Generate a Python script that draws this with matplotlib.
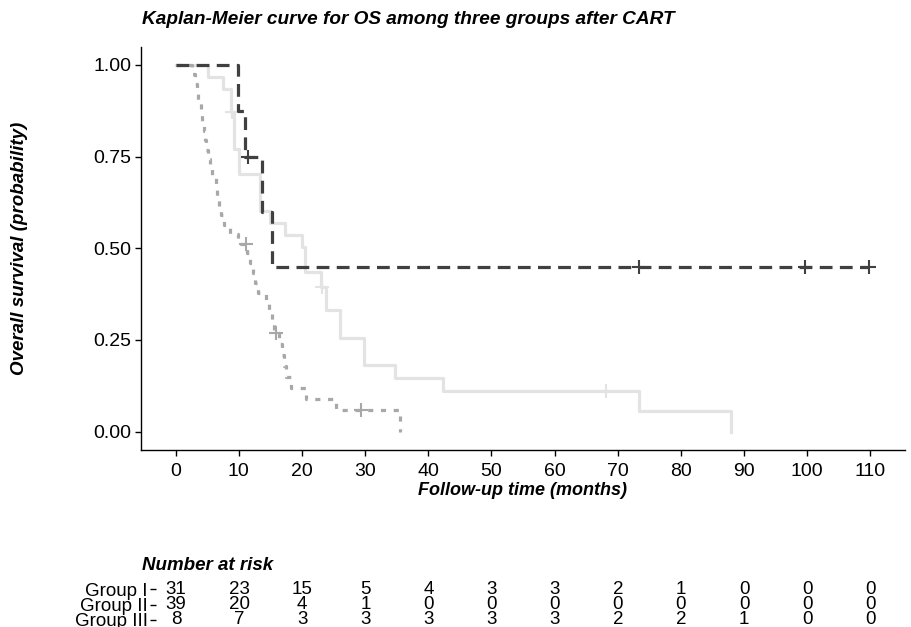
import matplotlib
matplotlib.use("Agg")
import matplotlib.pyplot as plt

plt.rcParams['font.family'] = ['Liberation Sans', 'DejaVu Sans']

# Group I (light solid)
g1_time = [0, 5.1, 7.5, 8.7, 9.3, 10.1, 13.3, 15.0, 17.3, 20.0, 20.5, 23.0, 23.8,
           26.0, 29.8, 34.7, 42.3, 73.3, 88.0]
g1_surv = [1.0, 0.968, 0.935, 0.871, 0.770, 0.703, 0.603, 0.570, 0.536, 0.503, 0.436,
           0.395, 0.332, 0.256, 0.183, 0.146, 0.110, 0.055, 0.0]
g1_cens_t = [8.9, 23.2, 68.2]
g1_cens_s = [0.871, 0.395, 0.110]

# Group II (medium dotted)
g2_time = [0, 2.6, 3.1, 3.3, 3.6, 4.0, 4.2, 4.4, 4.6, 4.8, 5.1, 5.4, 5.8, 6.3, 6.6, 6.9,
           7.1, 7.6, 8.6, 9.8, 11.3, 11.7, 12.2, 12.6, 13.0, 14.3, 14.7, 15.2, 15.6,
           16.3, 16.8, 17.2, 17.5, 18.2, 20.6, 25.4, 35.5]
g2_surv = [1.0, 0.974, 0.949, 0.923, 0.897, 0.872, 0.846, 0.821, 0.795, 0.769, 0.744,
           0.718, 0.692, 0.667, 0.641, 0.615, 0.590, 0.564, 0.538, 0.513, 0.486, 0.459,
           0.432, 0.405, 0.378, 0.351, 0.324, 0.297, 0.270, 0.240, 0.210, 0.180, 0.150,
           0.120, 0.090, 0.060, 0.0]
g2_cens_t = [11.1, 15.9, 29.4]
g2_cens_s = [0.513, 0.270, 0.060]

# Group III (dark dashed)
g3_time = [0, 9.8, 10.9, 13.6, 15.2, 109.8]
g3_surv = [1.0, 0.875, 0.75, 0.6, 0.45, 0.45]
g3_cens_t = [11.4, 73.3, 99.7, 109.8]
g3_cens_s = [0.75, 0.45, 0.45, 0.45]

groups = ["Group I", "Group II", "Group III"]
risk_times = [0, 10, 20, 30, 40, 50, 60, 70, 80, 90, 100, 110]
risk_g1 = [31, 23, 15, 5, 4, 3, 3, 2, 1, 0, 0, 0]
risk_g2 = [39, 20, 4, 1, 0, 0, 0, 0, 0, 0, 0, 0]
risk_g3 = [8, 7, 3, 3, 3, 3, 3, 2, 2, 1, 0, 0]

W, H = 912, 627
fig = plt.figure(figsize=(W / 100, H / 100), dpi=100)

ax = fig.add_axes([141 / W, 1 - 450 / H, (905 - 141) / W, (450 - 46.6) / H])

c1, c2, c3 = '#e3e3e3', '#a8a8a8', '#404040'
lw = 2.3

ax.step(g1_time, g1_surv, where='post', color=c1, lw=lw)
ax.plot(g1_cens_t, g1_cens_s, '+', color=c1, ms=10, mew=1.5)
ax.step(g2_time, g2_surv, where='post', color=c2, lw=lw, dashes=(1.6, 2.4))
ax.plot(g2_cens_t, g2_cens_s, '+', color=c2, ms=10, mew=1.5)
ax.step(g3_time, g3_surv, where='post', color=c3, lw=lw, dashes=(4, 2.3))
ax.plot(g3_cens_t, g3_cens_s, '+', color=c3, ms=10, mew=1.5)

ax.set_xlim(-5.5, 115.5)
ax.set_ylim(-0.05, 1.05)
ax.set_xticks(risk_times)
ax.set_yticks([0, 0.25, 0.5, 0.75, 1.0])
ax.set_yticklabels(["0.00", "0.25", "0.50", "0.75", "1.00"])
ax.tick_params(labelsize=14, length=4, width=1, color='black', labelcolor='black')
ax.tick_params(axis='x', pad=5)
ax.tick_params(axis='y', pad=3)
for s in ['top', 'right']:
    ax.spines[s].set_visible(False)
for s in ['left', 'bottom']:
    ax.spines[s].set_linewidth(1)

ax.set_xlabel("Follow-up time (months)", fontsize=13, fontweight='bold', style='italic', labelpad=2)
fig.text(20 / W, 1 - 248 / H, "Overall survival (probability)", rotation=90, fontsize=13.5,
         fontweight='bold', style='italic', ha='center', va='center')
fig.text(142 / W, 1 - 20 / H, "Kaplan-Meier curve for OS among three groups after CART",
         fontsize=13.7, fontweight='bold', style='italic', ha='left', va='center')

# number at risk table
fig.text(142 / W, 1 - 566 / H, "Number at risk", fontsize=13.5, fontweight='bold',
         style='italic', ha='left', va='center')
tab = fig.add_axes([156 / W, 1 - 627.75 / H, (905 - 156) / W, 46.5 / H])
tab.set_xlim((156 - 176) / 6.31, 115.5)
tab.set_ylim(0.5, 3.5)
for s in tab.spines.values():
    s.set_visible(False)
tab.set_xticks([])
tab.set_yticks([3, 2, 1])
tab.set_yticklabels(groups)
tab.tick_params(axis='y', labelsize=13.5, length=4, width=1, pad=2)
for row, vals in zip([3, 2, 1], [risk_g1, risk_g2, risk_g3]):
    for t, v in zip(risk_times, vals):
        tab.text(t, row, str(v), fontsize=13.5, ha='center', va='center')

fig.savefig("out.png", dpi=100)
